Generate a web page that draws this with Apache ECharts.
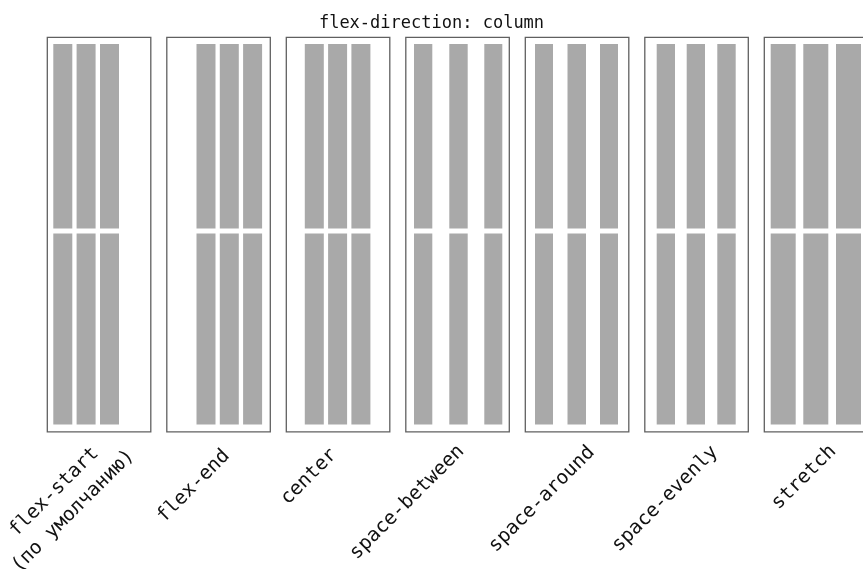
<!DOCTYPE html>
<html>
<head>
<meta charset="utf-8">
<script src="https://cdn.jsdelivr.net/npm/echarts@6/dist/echarts.min.js"></script>
<style>
  html, body { margin: 0; padding: 0; background: #fff; }
  #chart { width: 863px; height: 569px; }
</style>
</head>
<body>
<div id="chart"></div>
<script>
// panels (justify-content values)
const panelNames = ['flex-start\n(по умолчанию)', 'flex-end', 'center', 'space-between', 'space-around', 'space-evenly', 'stretch'];
const panelStep = 119.5;
const boxSpanX = [0, 103.5];
const boxSpanY = [0, 394.5];
// columns inside each box, [start, end] measured from the box's left edge
const columnSpans = [
  [[6, 25], [29.3, 48.3], [52.7, 71.7]],
  [[29.7, 48.7], [53, 72], [76.3, 95.3]],
  [[18.5, 37.5], [41.8, 60.8], [65.1, 84.1]],
  [[8.2, 26.5], [43.5, 61.9], [78.5, 96.5]],
  [[9.7, 27.7], [42.2, 60.7], [74.7, 92.7]],
  [[11.9, 30.2], [41.9, 60.2], [72.5, 90.9]],
  [[6.4, 31.4], [39, 64], [71.7, 96.7]]
];
// two items in every column, [top, bottom] from the box's top edge
const rowSpans = [[6.7, 191.2], [196.2, 387.2]];

// small per-label nudges (padding in the rotated text frame), the labels are not evenly placed
const labelPadding = [
  [0, 0, 1, 0],
  [0, 17, 8, 0],
  [0, 25, 27, 0],
  [0, 17, 21, 0],
  [0, 10, 4, 0],
  [1, 7, 0, 0],
  [0, 7.5, 2, 0]
];

const font = 'DejaVu Sans Mono';

let boxData = panelNames.map((n, i) => [i * panelStep + boxSpanX[0], i * panelStep + boxSpanX[1], boxSpanY[0], boxSpanY[1]]);
let itemData = [];
columnSpans.forEach((cols, i) => {
  cols.forEach(c => {
    rowSpans.forEach(r => {
      itemData.push([i * panelStep + c[0], i * panelStep + c[1], r[0], r[1]]);
    });
  });
});
let labelData = panelNames.map((n, i) => ({ value: n, textStyle: { padding: labelPadding[i] } }));

function rectItem(params, api, style) {
  let p0 = api.coord([api.value(0), api.value(2)]);
  let p1 = api.coord([api.value(1), api.value(3)]);
  return {
    type: 'rect',
    shape: { x: p0[0], y: p0[1], width: p1[0] - p0[0], height: p1[1] - p0[1] },
    style: style
  };
}

let chart = echarts.init(document.getElementById('chart'));

let options = {
  animation: false,
  title: {
    text: 'flex-direction: column',
    left: 'center',
    top: 10,
    textStyle: { fontFamily: font, fontSize: 17, fontWeight: 'normal', color: '#111' }
  },
  grid: [
    { left: 47.3, top: 37.3, width: panelStep * 7, height: boxSpanY[1], containLabel: false, outerBoundsMode: 'none' },
    { left: 62.4, top: 37.3, width: panelStep * 7, height: boxSpanY[1], containLabel: false, outerBoundsMode: 'none' }
  ],
  xAxis: [
    { type: 'value', gridIndex: 0, min: 0, max: panelStep * 7, show: false },
    {
      type: 'category', gridIndex: 1, data: labelData,
      axisLine: { show: false }, axisTick: { show: false },
      axisLabel: {
        rotate: 45, margin: 12, interval: 0, hideOverlap: false,
        fontFamily: font, fontSize: 19.5, color: '#111',
        formatter: function (v) {
          return v.split('\n').map(p => '{c|' + p + '}').join('\n');
        },
        rich: { c: { align: 'center', fontFamily: font, fontSize: 19.5, color: '#111', lineHeight: 27 } }
      }
    }
  ],
  yAxis: [
    { type: 'value', gridIndex: 0, min: boxSpanY[0], max: boxSpanY[1], inverse: true, show: false },
    { type: 'value', gridIndex: 1, show: false }
  ],
  series: [
    {
      type: 'custom',
      xAxisIndex: 0, yAxisIndex: 0,
      data: itemData,
      renderItem: function (params, api) {
        return rectItem(params, api, { fill: '#a9a9a9' });
      }
    },
    {
      type: 'custom',
      xAxisIndex: 0, yAxisIndex: 0,
      data: boxData,
      renderItem: function (params, api) {
        return rectItem(params, api, { fill: 'none', stroke: '#606060', lineWidth: 1.3 });
      }
    }
  ]
};
chart.setOption(options);
</script>
</body>
</html>
